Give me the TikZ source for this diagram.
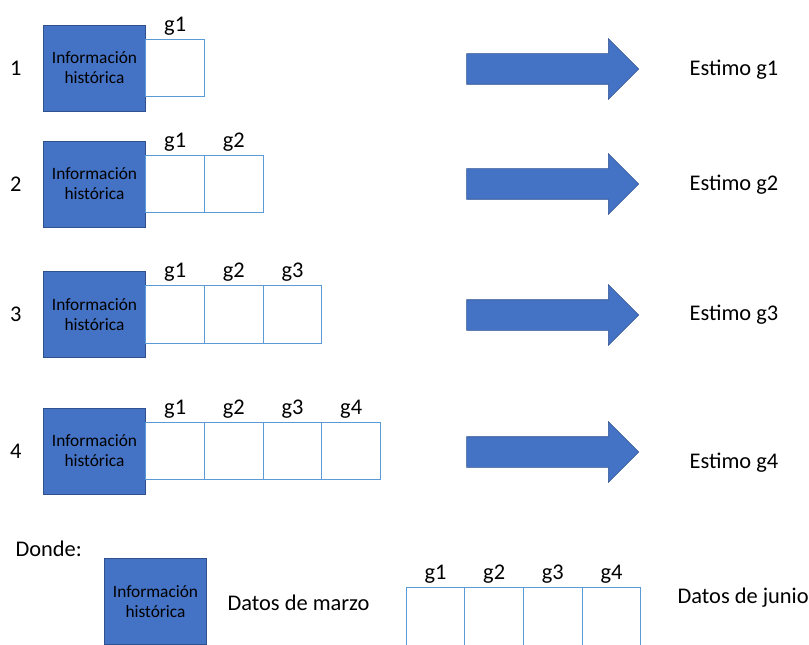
\documentclass[tikz,border=0pt]{standalone}
\usepackage{fontspec}
\setmainfont{Carlito}
\usetikzlibrary{shapes,arrows,positioning}

\definecolor{azul}{RGB}{68,114,196}
\definecolor{azulborde}{RGB}{47,82,143}
\definecolor{celeste}{RGB}{91,155,213}

\begin{document}
\begin{tikzpicture}[x=0.75pt, y=-0.75pt, node distance=1cm]
\tikzset{
    %Define style for the blue boxes
    hist/.style={
           rectangle,
           fill=azul,
           draw=azulborde, line width=0.6pt,
           minimum width=77pt,
           minimum height=64.5pt,
           text width=70pt,
           inner sep=0pt,
           outer sep=0pt,
           align=center,
           font=\fontsize{13}{15}\selectfont},
    % Define style for the empty cells
    celda/.style={
           rectangle,
           draw=celeste, line width=0.9pt,
           minimum width=44pt,
           minimum height=43pt,
           inner sep=0pt,
           outer sep=0pt},
    % Define style for plain text
    etiq/.style={
           inner sep=1pt,
           font=\fontsize{16.8}{20}\selectfont},
    % Define style for the big arrows
    flecha/.style={
           single arrow,
           fill=azul,
           draw=azulborde, line width=0.4pt,
           minimum height=129pt,
           minimum width=45pt,
           single arrow head extend=11.25pt,
           single arrow tip angle=90,
           inner xsep=0pt,
           inner ysep=11.25pt}
}
 \useasboundingbox (0,0) rectangle (809,645);
 % row 1
 \node[hist] (hist1) at (94.5,68) {Información\\histórica};
 \node[celda, right=0pt of hist1] (c11) {};
 \node[etiq, above=2pt of c11] (g11) {g1};
 \node[etiq, left=15pt of hist1] (n1) {1};
 \node[flecha] (f1) at (545,69) {};
 \node[etiq, anchor=west] (e1) at (688,70) {Estimo g1};
 % row 2
 \node[hist] (hist2) at (94.5,184) {Información\\histórica};
 \node[celda, right=0pt of hist2] (c21) {};
 \node[celda, right=0pt of c21] (c22) {};
 \node[etiq, above=2pt of c21] (g21) {g1};
 \node[etiq, above=2pt of c22] (g22) {g2};
 \node[etiq, left=15pt of hist2] (n2) {2};
 \node[flecha] (f2) at (545,184) {};
 \node[etiq, anchor=west] (e2) at (688,185) {Estimo g2};
 % row 3
 \node[hist] (hist3) at (94.5,314.5) {Información\\histórica};
 \node[celda, right=0pt of hist3] (c31) {};
 \node[celda, right=0pt of c31] (c32) {};
 \node[celda, right=0pt of c32] (c33) {};
 \node[etiq, above=2pt of c31] (g31) {g1};
 \node[etiq, above=2pt of c32] (g32) {g2};
 \node[etiq, above=2pt of c33] (g33) {g3};
 \node[etiq, left=15pt of hist3] (n3) {3};
 \node[flecha] (f3) at (545,315) {};
 \node[etiq, anchor=west] (e3) at (688,315) {Estimo g3};
 % row 4
 \node[hist] (hist4) at (94.5,451) {Información\\histórica};
 \node[celda, right=0pt of hist4] (c41) {};
 \node[celda, right=0pt of c41] (c42) {};
 \node[celda, right=0pt of c42] (c43) {};
 \node[celda, right=0pt of c43] (c44) {};
 \node[etiq, above=2pt of c41] (g41) {g1};
 \node[etiq, above=2pt of c42] (g42) {g2};
 \node[etiq, above=2pt of c43] (g43) {g3};
 \node[etiq, above=2pt of c44] (g44) {g4};
 \node[etiq, left=15pt of hist4] (n4) {4};
 \node[flecha] (f4) at (545,452) {};
 \node[etiq, anchor=west] (e4) at (688,463) {Estimo g4};
 % legend
 \node[etiq, anchor=west] (donde) at (14,549) {Donde:};
 \node[hist] (histL) at (155.5,601.5) {Información\\histórica};
 \node[etiq, anchor=west] (marzo) at (226,603) {Datos de marzo};
 \node[celda] (cL1) at (435.5,616.5) {};
 \node[celda, right=0pt of cL1] (cL2) {};
 \node[celda, right=0pt of cL2] (cL3) {};
 \node[celda, right=0pt of cL3] (cL4) {};
 \node[etiq, above=2pt of cL1] (gL1) {g1};
 \node[etiq, above=2pt of cL2] (gL2) {g2};
 \node[etiq, above=2pt of cL3] (gL3) {g3};
 \node[etiq, above=2pt of cL4] (gL4) {g4};
 \node[etiq, anchor=west] (junio) at (676,598) {Datos de junio};
\end{tikzpicture}
\end{document}
